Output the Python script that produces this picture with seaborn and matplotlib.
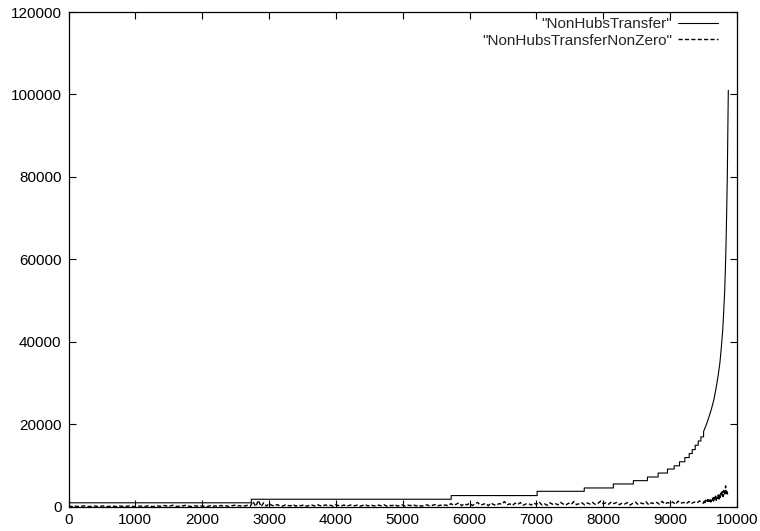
import matplotlib
matplotlib.use("Agg")
import matplotlib.pyplot as plt
import seaborn as sns
import pandas as pd

# ---- data ----
# "NonHubsTransfer", stepped part: x where each level begins, and the level
step_x = [0, 2735, 5725, 7010, 7715, 8150, 8450, 8660, 8820, 8960, 9060,
          9140, 9220, 9285, 9330, 9375, 9420, 9460]
step_y = [900, 1760, 2650, 3690, 4500, 5470, 6270, 7160, 8120, 9090, 9880,
          10850, 11880, 12850, 13800, 14870, 15900, 16900]
# "NonHubsTransfer", smooth steep tail
curve_x = [9500, 9540, 9580, 9620, 9655, 9690, 9720, 9745, 9765, 9785, 9800,
           9815, 9825, 9835, 9845, 9855, 9862, 9870]
curve_y = [18200, 19800, 21700, 23800, 26000, 29000, 32000, 35000, 38500,
           42500, 47000, 52000, 57000, 63000, 71000, 80000, 90000, 101000]

# "NonHubsTransferNonZero": noisy series near zero (sampled positions)
nonzero_x = list(range(0, 9500, 40)) + list(range(9500, 9861, 10))
nonzero_y = [
    # 0 .. 2720
    60, 0, 120, 40, 0, 90, 150, 30, 0, 80,
    110, 0, 70, 140, 20, 0, 100, 60, 0, 130,
    50, 0, 90, 170, 10, 0, 120, 80, 0, 60,
    200, 30, 0, 150, 90, 0, 250, 60, 120, 300,
    80, 0, 220, 140, 350, 60, 0, 180, 90, 20,
    160, 40, 0, 210, 70, 130, 0, 260, 50, 190,
    0, 140, 320, 60, 230, 10, 170, 280, 90,
    # 2760 .. 3000
    1200, 0, 1500, 0, 900, 100, 700,
    # 3040 .. 5680
    300, 120, 450, 200, 80, 380, 250, 150, 500, 90,
    320, 180, 420, 60, 270, 350, 130, 480, 220, 100,
    390, 160, 300, 70, 440, 210, 140, 360, 90, 280,
    410, 170, 330, 60, 250, 460, 120, 380, 200, 90,
    340, 150, 420, 80, 300, 190, 470, 110, 260, 380,
    70, 310, 230, 440, 140, 360, 50, 290, 400, 170,
    250, 480, 120, 330, 210, 380, 150,
    # 5720 .. 9480
    700, 300, 550, 900, 200, 650, 400, 800, 250, 600,
    1000, 350, 500, 750, 200, 850, 450, 300, 700, 550,
    1200, 400, 650, 250, 800, 500, 950, 300, 600, 700,
    350, 850, 500, 1100, 400, 650, 300, 900, 550, 750,
    400, 1000, 600, 350, 800, 500, 1200, 450, 700, 900,
    400, 850, 600, 1000, 500, 750, 1300, 650, 900, 550,
    1100, 700, 1000, 450, 800, 600, 950, 350, 750, 1050,
    500, 850, 650, 1150, 400, 900, 700, 1000, 550, 1250,
    600, 950, 750, 1100, 500, 1300, 800, 1000, 650, 1200,
    700, 1100, 850, 1350, 900,
    # 9500 .. 9860
    800, 1300, 700, 1500, 1000, 1200, 1700, 900, 1600, 1300,
    1900, 1100, 1800, 1500, 2100, 1300, 2200, 1700, 2500, 1500,
    2400, 2000, 2800, 1800, 3000, 2200, 3300, 2500, 3600, 2400,
    3900, 2800, 3200, 5000, 3000, 3600, 2900]

x_ticks = list(range(0, 10001, 1000))
y_ticks = list(range(0, 120001, 20000))
labels = ['"NonHubsTransfer"', '"NonHubsTransferNonZero"']

# ---- build the stepped path for the first series ----
path_x, path_y = [], []
for i in range(len(step_x)):
    nxt = step_x[i + 1] if i + 1 < len(step_x) else curve_x[0]
    path_x += [step_x[i], nxt]
    path_y += [step_y[i], step_y[i]]
path_x += curve_x
path_y += curve_y

# ---- plotting ----
sns.set_style("ticks")
plt.rcParams['font.family'] = ['Liberation Sans', 'DejaVu Sans']

fig = plt.figure(figsize=(7.6, 5.31), dpi=100)
ax = fig.add_axes([68.5 / 760, 1 - 506.5 / 531, (737 - 68.5) / 760, (506.5 - 12) / 531])

df1 = pd.DataFrame({"x": path_x, "y": path_y})
df2 = pd.DataFrame({"x": nonzero_x, "y": nonzero_y})

sns.lineplot(data=df1, x="x", y="y", ax=ax, color="black", lw=0.8,
             sort=False, label=labels[0], estimator=None)
sns.lineplot(data=df2, x="x", y="y", ax=ax, color="black", lw=1.0,
             sort=False, label=labels[1], estimator=None)
ax.lines[1].set_dashes([3, 1.6])

ax.set_xlim(0, 10000)
ax.set_ylim(0, 120000)
ax.set_xticks(x_ticks)
ax.set_yticks(y_ticks)
ax.set_xticklabels([str(v) for v in x_ticks])
ax.set_yticklabels([str(v) for v in y_ticks])
ax.set_xlabel("")
ax.set_ylabel("")
ax.tick_params(direction="in", length=5, width=0.8, top=True, right=True,
               labelsize=11, colors="black", pad=5)
for sp in ax.spines.values():
    sp.set_visible(True)
    sp.set_linewidth(0.9)
    sp.set_color("black")

leg = ax.legend(loc="upper right", frameon=False, markerfirst=False,
                handlelength=2.6, handletextpad=0.4, labelspacing=0.18,
                fontsize=11, borderaxespad=0, borderpad=0,
                bbox_to_anchor=(718 / 760, 1 - 17 / 531),
                bbox_transform=fig.transFigure)

fig.savefig("out.png", dpi=100)
